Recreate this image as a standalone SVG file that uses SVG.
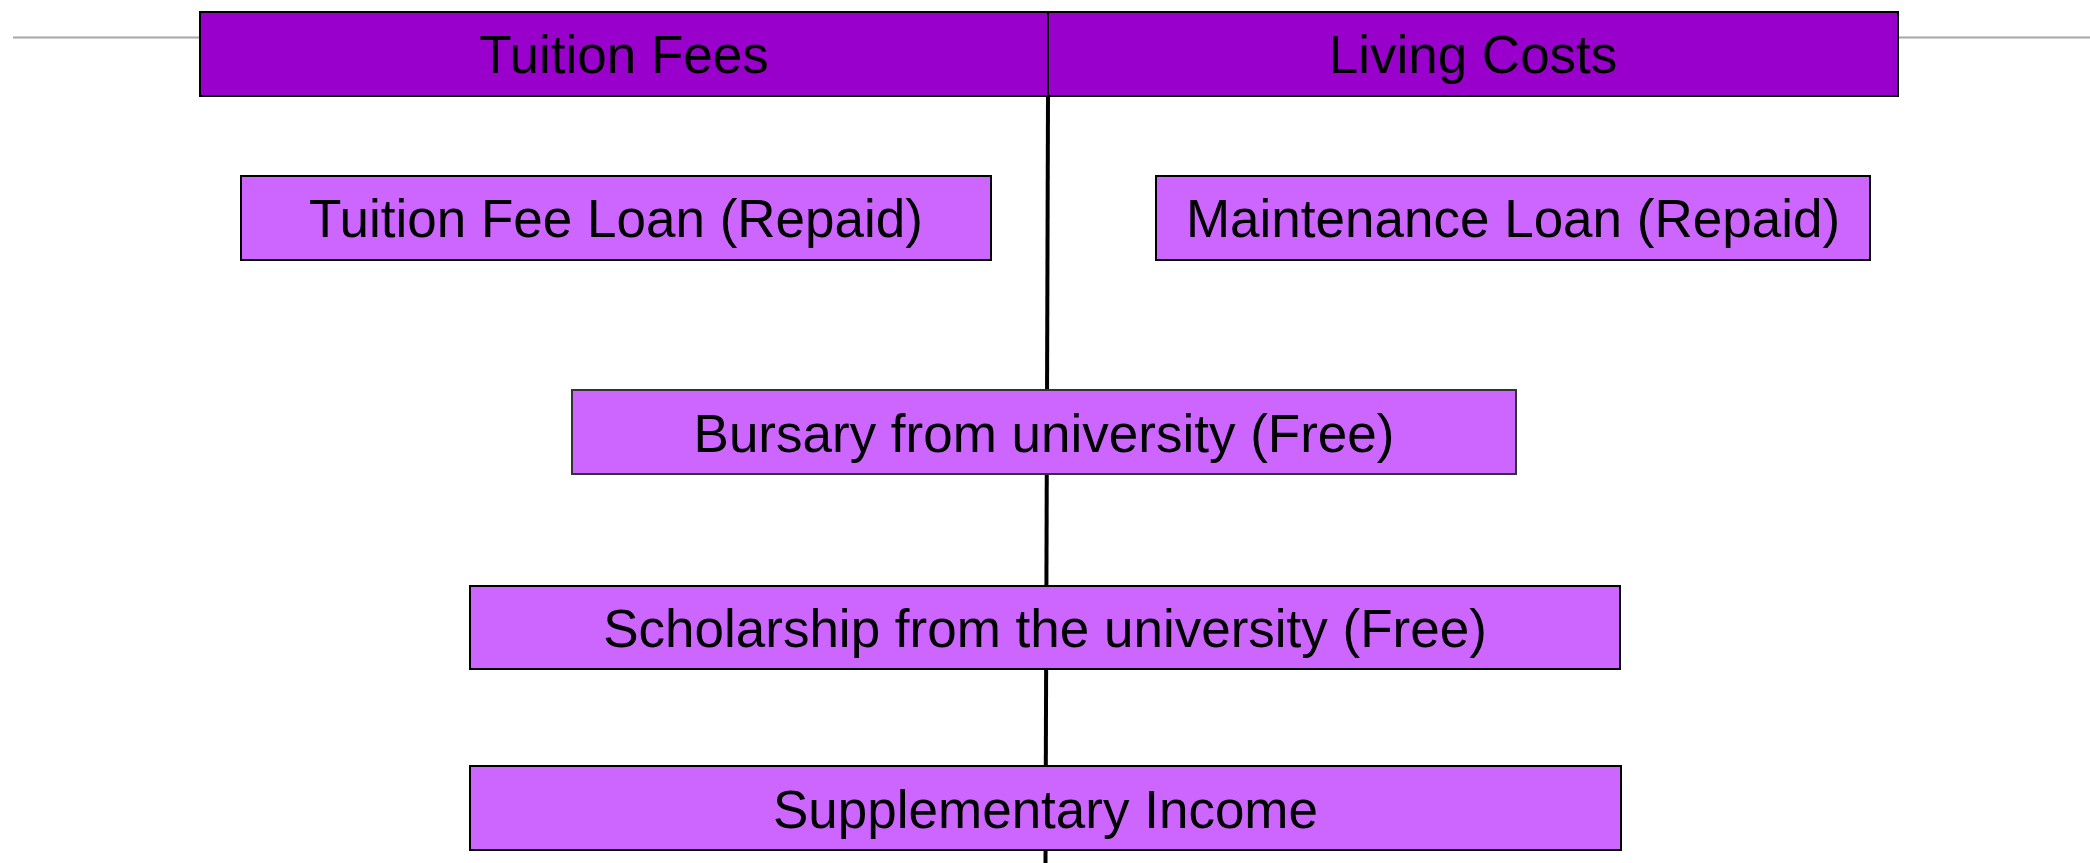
<svg xmlns="http://www.w3.org/2000/svg" width="2090" height="863" viewBox="0 0 2090 863">
<style>
.hdr{fill:#9900CC;stroke:#000;stroke-width:2}
.box{fill:#CC66FF;stroke:#000;stroke-width:2}
.t{font-family:"Liberation Sans",Arial,sans-serif;font-size:53px;fill:#000;text-anchor:middle}
</style>
<rect width="2090" height="863" fill="#fff"/>
<g id="connectors">
<line x1="13" y1="37.5" x2="2090" y2="37.5" stroke="#A6A6A6" stroke-width="2"/>
<line x1="1048" y1="96" x2="1045.5" y2="863" stroke="#000" stroke-width="4"/>
</g>
<g id="tuition-fees">
<rect class="hdr" x="200" y="12" width="848" height="84"/>
<text class="t" x="624" y="73">Tuition Fees</text>
</g>
<g id="living-costs">
<rect class="hdr" x="1048" y="12" width="850" height="84"/>
<text class="t" x="1473" y="73">Living Costs</text>
</g>
<g id="tuition-fee-loan">
<rect class="box" x="241" y="176" width="750" height="84"/>
<text class="t" x="616" y="237">Tuition Fee Loan (Repaid)</text>
</g>
<g id="maintenance-loan">
<rect class="box" x="1156" y="176" width="714" height="84"/>
<text class="t" x="1513" y="237">Maintenance Loan (Repaid)</text>
</g>
<g id="bursary">
<rect class="box" x="572" y="390" width="944" height="84" style="stroke:#333"/>
<text class="t" x="1044" y="452">Bursary from university (Free)</text>
</g>
<g id="scholarship">
<rect class="box" x="470" y="586" width="1150" height="83"/>
<text class="t" x="1045" y="647">Scholarship from the university (Free)</text>
</g>
<g id="supplementary-income">
<rect class="box" x="470" y="766" width="1151" height="84"/>
<text class="t" x="1045.5" y="828">Supplementary Income</text>
</g>
</svg>
